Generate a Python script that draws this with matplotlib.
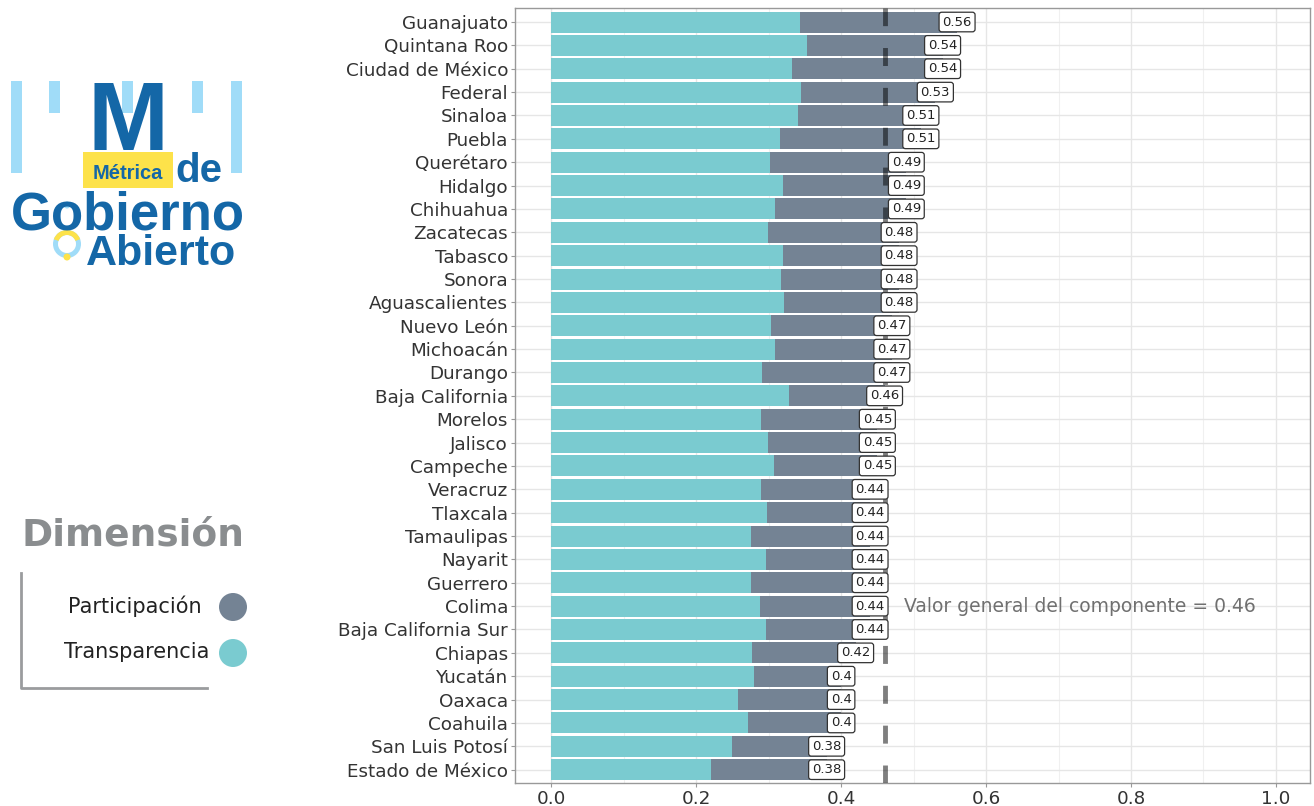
import numpy as np
import matplotlib.pyplot as plt
from matplotlib.patches import Rectangle, Circle, Wedge

# datos
estados = ['Guanajuato', 'Quintana Roo', 'Ciudad de México', 'Federal', 'Sinaloa',
           'Puebla', 'Querétaro', 'Hidalgo', 'Chihuahua', 'Zacatecas', 'Tabasco',
           'Sonora', 'Aguascalientes', 'Nuevo León', 'Michoacán', 'Durango',
           'Baja California', 'Morelos', 'Jalisco', 'Campeche', 'Veracruz',
           'Tlaxcala', 'Tamaulipas', 'Nayarit', 'Guerrero', 'Colima',
           'Baja California Sur', 'Chiapas', 'Yucatán', 'Oaxaca', 'Coahuila',
           'San Luis Potosí', 'Estado de México']
transparencia = [0.343, 0.353, 0.332, 0.345, 0.341, 0.316, 0.302, 0.320, 0.309,
                 0.299, 0.320, 0.317, 0.321, 0.303, 0.309, 0.291, 0.328, 0.290,
                 0.299, 0.308, 0.290, 0.298, 0.276, 0.297, 0.276, 0.288, 0.297,
                 0.277, 0.280, 0.258, 0.272, 0.250, 0.221]
total = [0.56, 0.54, 0.54, 0.53, 0.51, 0.51, 0.49, 0.49, 0.49, 0.48, 0.48, 0.48,
         0.48, 0.47, 0.47, 0.47, 0.46, 0.45, 0.45, 0.45, 0.44, 0.44, 0.44, 0.44,
         0.44, 0.44, 0.44, 0.42, 0.40, 0.40, 0.40, 0.38, 0.38]
valor_general = 0.46

participacion = [t - a for t, a in zip(total, transparencia)]

C_TRANS = '#7acbd0'
C_PART = '#748394'
AZUL = '#1467a7'
CELESTE = '#a0dcf8'
AMARILLO = '#fde24a'

fig = plt.figure(figsize=(13.14, 8.06), dpi=100)

# capa de fondo en pixeles para logo y leyenda
bg = fig.add_axes([0, 0, 1, 1], zorder=0)
bg.set_xlim(0, 1314)
bg.set_ylim(806, 0)
bg.axis('off')

# logo
for x0, y1 in [(11, 173), (49, 113), (122, 113), (192, 113), (231, 173)]:
    bg.add_patch(Rectangle((x0, 81), 11, y1 - 81, color=CELESTE, lw=0))
bg.text(128, 150, 'M', fontsize=70, fontweight='bold', color=AZUL,
        family='Liberation Sans', ha='center', va='baseline')
bg.add_patch(Rectangle((83, 152), 90, 36, color=AMARILLO, lw=0))
bg.text(128, 179, 'Métrica', fontsize=14.5, fontweight='bold', color=AZUL,
        family='Liberation Sans', ha='center', va='baseline')
bg.text(175, 182, 'de', fontsize=29, fontweight='bold', color=AZUL,
        family='Liberation Sans', ha='left', va='baseline')
bg.text(11, 229, 'Gobierno', fontsize=38, fontweight='bold', color=AZUL,
        family='Liberation Sans', ha='left', va='baseline')
bg.text(86, 265, 'Abierto', fontsize=31, fontweight='bold', color=AZUL,
        family='Liberation Sans', ha='left', va='baseline')
bg.add_patch(Wedge((67, 244), 14, 0, 360, width=5, color=CELESTE, lw=0))
bg.add_patch(Wedge((67, 244), 14, 200, 340, width=5, color=AMARILLO, lw=0))
bg.add_patch(Circle((67, 257), 3.5, color=AMARILLO, lw=0))
bg.add_patch(Circle((67, 205), 3.5, color=CELESTE, lw=0))

# leyenda
bg.text(133, 546, 'Dimensión', fontsize=27, fontweight='bold', color='#8a8d8f',
        ha='center', va='baseline')
bg.plot([21, 21, 207], [573, 688, 688], color='#9a9c9e', lw=2)
bg.text(202, 606, 'Participación', fontsize=15, color='#222222',
        ha='right', va='center')
bg.text(209, 652, 'Transparencia', fontsize=15, color='#222222',
        ha='right', va='center')
bg.add_patch(Circle((233, 607), 14, color=C_PART, lw=0))
bg.add_patch(Circle((233, 653), 14, color=C_TRANS, lw=0))

# grafica principal
ax = fig.add_axes([515 / 1314, 1 - 783 / 806, 795 / 1314, 775 / 806], zorder=1)
y = np.arange(len(estados))
ax.barh(y, transparencia, height=0.9, color=C_TRANS, zorder=2)
ax.barh(y, participacion, left=transparencia, height=0.9, color=C_PART, zorder=2)

ax.axvline(valor_general, color='black', alpha=0.5, lw=3.5, zorder=3,
           dashes=(3.7, 4.5))

for yi, t in zip(y, total):
    ax.text(t, yi, f'{t:g}', fontsize=9.5, color='#222222', ha='center',
            va='center', zorder=4,
            bbox=dict(boxstyle='round,pad=0.25,rounding_size=0.2', fc='white',
                      ec='#333333', lw=0.9))

ax.text(0.487, estados.index('Colima'), f'Valor general del componente = {valor_general}',
        fontsize=13.5, color='#707070', va='center', ha='left', zorder=4)

ax.set_xlim(-0.05, 1.047)
ax.set_ylim(len(estados) - 0.43, -0.6)
ax.set_yticks(y)
ax.set_yticklabels(estados, fontsize=13.2, color='#333333')
ax.set_xticks([0, 0.2, 0.4, 0.6, 0.8, 1.0])
ax.set_xticklabels(['0.0', '0.2', '0.4', '0.6', '0.8', '1.0'], fontsize=13.2,
                   color='#333333')
ax.set_xticks([0.1, 0.3, 0.5, 0.7, 0.9], minor=True)
ax.tick_params(axis='both', length=3, color='#999999', pad=2)
ax.tick_params(axis='x', which='minor', length=0)
ax.grid(True, which='major', color='#e6e6e6', lw=1, zorder=0)
ax.grid(True, which='minor', axis='x', color='#f0f0f0', lw=0.8, zorder=0)
ax.set_axisbelow(True)
for s in ax.spines.values():
    s.set_color('#999999')
    s.set_linewidth(1)

plt.savefig('out.png', dpi=100)
